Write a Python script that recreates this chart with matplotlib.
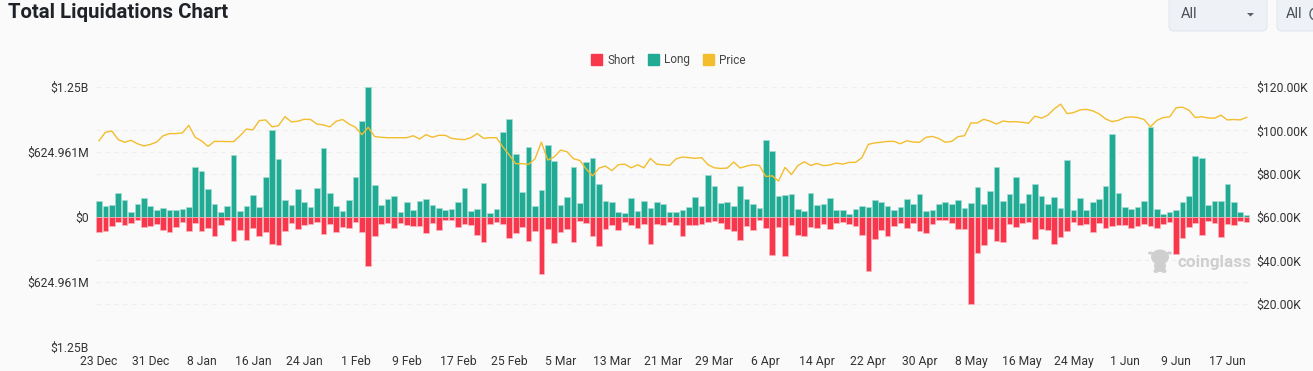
"""Total liquidations chart, bars for long / short and price on the right axis."""

from matplotlib import pyplot as plt
from matplotlib.patches import Arc, Ellipse, FancyBboxPatch, Patch, Polygon

plt.rcParams['font.family'] = ['Roboto', 'DejaVu Sans']

# %% Data
# liquidations per day in $M
long_m = [150, 106, 112, 234, 160, 48, 122, 186, 109, 64, 86, 70, 70, 80, 96,
          483, 442, 266, 128, 48, 102, 592, 61, 106, 214, 93, 381, 832, 554,
          160, 115, 266, 147, 96, 275, 659, 234, 106, 54, 163, 384, 922, 1250,
          304,
          118, 173, 198, 45, 144, 70, 150, 170, 118, 86, 67, 77, 147, 282, 54,
          74, 326, 38, 74, 816, 947, 605, 237, 672, 106, 256, 691, 541, 112,
          192, 480, 134, 525, 566, 317, 150, 141, 45, 38, 179, 54, 154, 83,
          147, 128, 51,
          48, 70, 93, 189, 102, 403, 298, 138, 141, 106, 294, 173, 125, 83,
          742, 634, 205, 214, 218, 74, 61, 227, 115, 122, 179, 64, 67, 26, 80,
          106, 99, 160, 141, 106, 67, 99, 170, 122, 218, 54, 70, 122, 141, 128,
          163,
          86, 131, 285, 122, 253, 477, 154, 221, 384, 134, 221, 314, 202, 122,
          192, 86, 547, 70, 179, 70, 144, 170, 294, 797, 227, 93, 77, 93, 150,
          867, 74, 29, 45, 67, 141, 202, 586, 570, 112, 157, 157, 320, 144, 51,
          19]
short_m = [141, 131, 83, 48, 80, 58, 26, 93, 83, 67, 122, 147, 96, 48, 131, 58,
           134, 106, 179, 77, 32, 227, 125, 224, 109, 179, 144, 256, 266, 134,
           54, 118, 77, 67, 48, 160, 70, 141, 96, 109, 48, 141, 467, 179,
           67, 61, 106, 61, 77, 86, 86, 150, 54, 128, 26, 29, 93, 64, 80, 173,
           243, 70, 51, 64, 202, 154, 93, 227, 131, 544, 118, 250, 144, 115,
           237, 42, 58, 186, 275, 118, 77, 122, 51, 74, 102, 64, 256, 70, 74,
           51,
           74, 179, 80, 80, 64, 45, 38, 54, 112, 134, 221, 83, 125, 32, 106,
           362, 99, 374, 80, 173, 179, 99, 106, 70, 118, 61, 45, 70, 86, 173,
           518, 211, 128, 186, 83, 54, 102, 61, 134, 154, 70, 26, 26, 61, 112,
           112, 835, 349, 266, 112, 234, 237, 70, 99, 61, 45, 214, 115, 125,
           262, 189, 131, 51, 74, 70, 141, 54, 102, 86, 74, 74, 106, 90, 67,
           90, 102, 67, 51, 355, 202, 99, 61, 173, 35, 58, 189, 67, 77, 42, 48]
# price in $K
price_k = [95.2, 99.1, 99.7, 95.7, 94.5, 95.4, 93.8, 92.8, 93.5, 94.6, 97.5,
           98.5, 98.5, 98.8, 102.3, 96.8, 95.1, 92.6, 94.9, 94.9, 94.8, 94.8,
           97.5, 100.6, 100.2, 104.5, 104.8, 101.6, 102.2, 106.3, 103.9, 104.2,
           105.1, 105.0, 102.9, 102.5, 101.6, 104.2, 105.0, 102.9, 101.4, 98.0,
           101.4, 97.1,
           96.8, 96.6, 96.6, 96.6, 96.6, 97.5, 96.0, 98.0, 96.8, 97.7, 97.7,
           96.3, 95.9, 95.7, 96.6, 98.5, 96.3, 96.6, 96.6, 92.3, 88.6, 84.6,
           84.6, 84.3, 86.8, 94.5, 86.3, 87.7, 90.9, 90.1, 86.9, 86.1, 82.1,
           79.0, 82.6, 83.5, 81.4, 84.1, 84.4, 82.7, 84.1, 82.7, 87.0, 84.4,
           84.1, 83.8,
           86.8, 87.7, 87.4, 87.1, 87.4, 84.1, 82.7, 82.4, 82.6, 85.4, 82.6,
           83.5, 84.1, 83.8, 78.7, 79.0, 76.6, 82.9, 79.6, 83.7, 85.5, 83.8,
           84.7, 83.7, 84.0, 84.9, 84.4, 85.2, 85.2, 87.4, 93.5, 94.2, 94.5,
           94.9, 94.9, 93.8, 95.2, 94.6, 94.5, 96.8, 97.2, 96.2, 94.5, 94.9,
           97.1,
           97.5, 103.4, 103.4, 105.1, 104.2, 102.9, 104.3, 103.9, 104.0, 103.7,
           103.3, 106.6, 105.6, 107.0, 109.9, 112.1, 107.7, 108.2, 109.4,
           109.7, 109.0, 107.6, 105.3, 104.0, 104.6, 105.9, 106.2, 105.9,
           105.0, 101.6, 104.6, 105.9, 106.2, 110.4, 110.7, 109.3, 105.9,
           106.3, 105.7, 105.6, 107.0, 104.8, 105.0, 104.8, 106.0]

date_labels = ['23 Dec', '31 Dec', '8 Jan', '16 Jan', '24 Jan', '1 Feb',
               '9 Feb', '17 Feb', '25 Feb', '5 Mar', '13 Mar', '21 Mar',
               '29 Mar', '6 Apr', '14 Apr', '22 Apr', '30 Apr', '8 May',
               '16 May', '24 May', '1 Jun', '9 Jun', '17 Jun']
left_ticks = [-1250, -624.961, 0, 624.961, 1250]
left_labels = ['$1.25B', '$624.961M', '$0', '$624.961M', '$1.25B']
right_ticks = [20, 40, 60, 80, 100, 120]
right_labels = ['$20.00K', '$40.00K', '$60.00K', '$80.00K', '$100.00K',
                '$120.00K']
# price gridlines expressed on the left axis
grid_left = [-833.3, -416.7, 416.7, 833.3]

# %% CONSTANTS
W, H = 1313, 371
BG = '#FAFAFA'
LONG_C = '#22AB94'
SHORT_C = '#F9374C'
PRICE_C = '#F3BD2E'
TEXT_C = '#333333'


def fx(px):
    return px / W


def fy(py):
    return 1 - py / H


days = list(range(len(long_m)))

fig = plt.figure(figsize=(W / 100, H / 100), dpi=100, facecolor=BG)
ax = fig.add_axes([fx(95.8), fy(347), (1249.8 - 95.8) / W, 260 / H])
ax.set_facecolor(BG)

ax.bar(days, long_m, width=0.88, color=LONG_C,
       edgecolor='#A5DDD2', linewidth=0.5)
ax.bar(days, [-v for v in short_m], width=0.88, color=SHORT_C,
       edgecolor='#FBB4BC', linewidth=0.5)

ax.set_xlim(-0.5, len(days) - 0.5)
ax.set_ylim(-1250, 1250)
ax.set_xticks(days[::8], date_labels)
ax.set_yticks(left_ticks, left_labels)
ax.set_yticks(grid_left, minor=True)
ax.set_axisbelow(True)
ax.grid(True, axis='y', which='both', color='#EEEEEE', linewidth=0.8,
        linestyle=(0, (4, 4)))
ax.tick_params(axis='both', which='both', length=0, labelsize=8.7,
               labelcolor=TEXT_C)
ax.tick_params(axis='x', pad=6)
ax.tick_params(axis='y', pad=5)

ax2 = ax.twinx()
ax2.plot(days, price_k, color=PRICE_C, linewidth=1.0)
ax2.set_ylim(0, 120)
ax2.set_yticks(right_ticks, right_labels)
ax2.tick_params(axis='y', length=0, labelsize=8.7, labelcolor=TEXT_C, pad=5)

for a in (ax, ax2):
    for s in a.spines.values():
        s.set_visible(False)

# %% Header
fig.text(fx(8), fy(12.5), 'Total Liquidations Chart', fontsize=14.7, weight='bold',
         color='#1F2328', va='center', ha='left')

for x0, x1 in ((1169, 1267), (1277, 1340)):
    fig.add_artist(FancyBboxPatch(
        (fx(x0), fy(31)), (x1 - x0) / W, 60 / H,
        boxstyle='round,pad=0,rounding_size=0.004', mutation_aspect=W / H,
        transform=fig.transFigure, facecolor='#EEF2F6', edgecolor='#E1E8EE',
        linewidth=0.8))
fig.text(fx(1181), fy(14), 'All', fontsize=10.5, color='#4A4F55', va='center')
fig.text(fx(1286), fy(14), 'All', fontsize=10.5, color='#4A4F55', va='center')
fig.add_artist(Polygon([(fx(1247), fy(13)), (fx(1254), fy(13)),
                        (fx(1250.5), fy(16.5))],
                       transform=fig.transFigure, facecolor='#5A6066',
                       edgecolor='none'))
fig.add_artist(Arc((fx(1314), fy(14)), 8 / W, 11 / H, theta1=90, theta2=270,
                   color='#5A6066', linewidth=1, transform=fig.transFigure))

# %% Legend
handles = [Patch(color=SHORT_C, label='Short'), Patch(color=LONG_C, label='Long'),
           Patch(color=PRICE_C, label='Price')]
fig.legend(handles=handles, ncol=3, loc='center', bbox_to_anchor=(fx(668.5), fy(60)),
           frameon=False, fontsize=8.5, labelcolor='#444444', handlelength=0.95,
           handleheight=0.95, handletextpad=0.45, columnspacing=1.05)

# %% Watermark
WM = '#CFCFCF'
fig.text(fx(1178), fy(262), 'coinglass', fontsize=12.3, weight='bold', color=WM,
         va='center', ha='left')
for cx, cy, w, h in ((1160, 257, 18, 15), (1160, 266, 12, 12), (1150.5, 253, 5, 3),
                     (1169.5, 253, 5, 3), (1156, 271, 5, 4), (1164, 271, 5, 4)):
    fig.add_artist(Ellipse((fx(cx), fy(cy)), w / W, h / H, facecolor=WM,
                           edgecolor='none', transform=fig.transFigure))

fig.savefig('out.png', dpi=100, facecolor=BG)
